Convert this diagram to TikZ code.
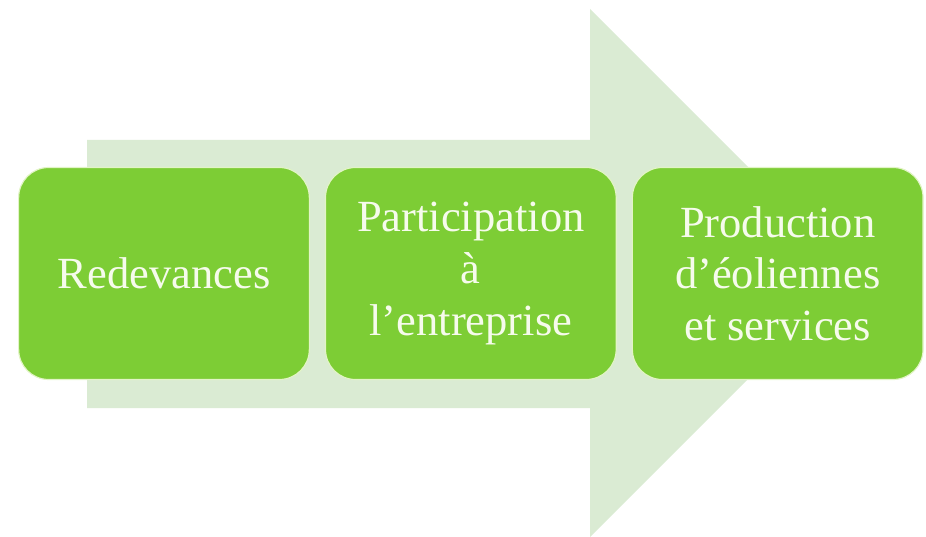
\documentclass[tikz,border=0pt]{standalone}
\usepackage{fontspec}
\setmainfont{Liberation Serif}
\usetikzlibrary{positioning}

\definecolor{boxgreen}{HTML}{7DCD35}
\definecolor{rimgreen}{HTML}{E2F4C6}
\definecolor{arrowgreen}{HTML}{DAEBD3}
\definecolor{txtwhite}{HTML}{F6FBEC}

\begin{document}
\begin{tikzpicture}[
    x=0.03cm, y=-0.03cm,
    etape/.style={
        draw=rimgreen,
        line width=1pt,
        fill=boxgreen,
        rounded corners=0.9cm,
        minimum width=8.72cm,
        minimum height=6.36cm,
        align=center,
        text=txtwhite,
        font={\fontsize{38}{44}\selectfont},
        inner sep=0pt,
    },
]

\def\GAP{0.45cm}    %space between the boxes

\useasboundingbox (0,0) rectangle (926,537);

%big arrow in the background
\fill[arrowgreen] (87,140) -- (590,140) -- (590,9) -- (854,273)
    -- (590,537) -- (590,408) -- (87,408) -- cycle;

\node[etape] (redev) at (164,273.5) {Redevances};
\node[etape,right=\GAP of redev] (partic) {Participation\\à\\l’entreprise};
\node[etape,right=\GAP of partic] (prod) {Production\\d’éoliennes\\et services};

\end{tikzpicture}
\end{document}
